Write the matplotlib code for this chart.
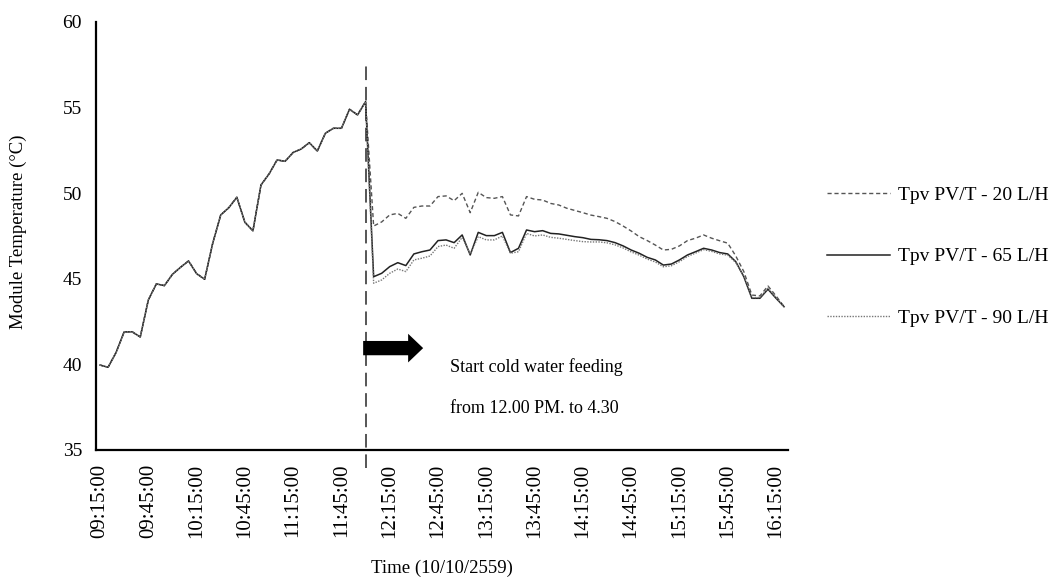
import matplotlib
matplotlib.use('Agg')
import matplotlib.pyplot as plt
from matplotlib.patches import FancyArrow
import pandas as pd

plt.rcParams['font.family'] = ['Liberation Serif', 'DejaVu Serif']

# ---- data ----
times = pd.date_range('2016-10-10 09:15', '2016-10-10 16:20', freq='5min').strftime('%H:%M:%S').tolist()

# values before cold water feeding (identical for all three flow rates), 09:15 - 12:00
pre_feed = [39.96, 39.83, 40.7, 41.9, 41.9, 41.6, 43.76, 44.7, 44.6, 45.26, 45.67, 46.04,
            45.3, 44.97, 47.07, 48.73, 49.15, 49.76, 48.3, 47.8, 50.48, 51.12, 51.94, 51.86,
            52.38, 52.58, 52.95, 52.46, 53.5, 53.79, 53.79, 54.9, 54.57, 55.35]

# values after feeding starts, 12:05 - 16:20
post_20 = [48.08, 48.32, 48.73, 48.82, 48.53, 49.17, 49.25, 49.25, 49.8, 49.84, 49.56, 49.99,
           48.86, 50.05, 49.74, 49.7, 49.8, 48.73, 48.67, 49.8, 49.64, 49.6, 49.4, 49.31,
           49.12, 48.99, 48.86, 48.72, 48.63, 48.53, 48.34, 48.08, 47.79, 47.46, 47.23, 46.97,
           46.68, 46.72, 46.92, 47.23, 47.37, 47.56, 47.37, 47.22, 47.08, 46.33, 45.42, 44.05,
           44.0, 44.58, 44.0, 43.37]
post_65 = [45.12, 45.32, 45.71, 45.94, 45.77, 46.45, 46.58, 46.68, 47.23, 47.27, 47.11, 47.56,
           46.39, 47.71, 47.52, 47.52, 47.71, 46.53, 46.78, 47.85, 47.75, 47.81, 47.65, 47.62,
           47.54, 47.46, 47.4, 47.3, 47.28, 47.23, 47.11, 46.92, 46.68, 46.49, 46.25, 46.1,
           45.8, 45.86, 46.1, 46.39, 46.58, 46.78, 46.68, 46.53, 46.45, 46.0, 45.12, 43.86,
           43.86, 44.39, 43.86, 43.37]
post_90 = [44.74, 44.93, 45.32, 45.57, 45.42, 46.1, 46.2, 46.33, 46.88, 46.97, 46.78, 47.42,
           46.45, 47.46, 47.27, 47.27, 47.5, 46.49, 46.58, 47.65, 47.5, 47.56, 47.42, 47.37,
           47.3, 47.23, 47.17, 47.15, 47.15, 47.1, 46.98, 46.8, 46.57, 46.38, 46.15, 45.98,
           45.7, 45.76, 46.0, 46.3, 46.5, 46.7, 46.6, 46.45, 46.38, 45.95, 45.15, 43.9,
           43.9, 44.45, 43.9, 43.35]

series_labels = ['Tpv PV/T - 20 L/H', 'Tpv PV/T - 65 L/H', 'Tpv PV/T - 90 L/H']
series_values = [pre_feed + post_20, pre_feed + post_65, pre_feed + post_90]
y_ticks = [35, 40, 45, 50, 55, 60]
feed_start = '12:00:00'

# ---- styles ----
styles = [dict(color='#555555', lw=1.0, ls=(0, (3, 2))),
          dict(color='#222222', lw=1.1, ls='-'),
          dict(color='#777777', lw=1.0, ls=(0, (1, 1)))]

fig = plt.figure(figsize=(10.55, 5.78), dpi=100)
ax = fig.add_axes([0.091, 0.2215, 0.656, 0.7405])

x = list(range(len(times)))
handles = []
for vals, lab, st in zip(series_values, series_labels, styles):
    h, = ax.plot(x, vals, label=lab, **st)
    handles.append(h)

ax.set_xlim(-0.5, len(times) - 0.5)
ax.set_ylim(35, 60)
ax.set_yticks(y_ticks)
ax.set_xticks(x[::6])
ax.set_xticklabels(times[::6], rotation=90)
ax.tick_params(axis='y', length=0, labelsize=14, pad=10)
ax.tick_params(axis='x', length=0, labelsize=15, pad=10)

for s in ['top', 'right']:
    ax.spines[s].set_visible(False)
for s in ['left', 'bottom']:
    ax.spines[s].set_linewidth(1.6)
    ax.spines[s].set_color('black')

ax.set_ylabel('Module Temperature (°C)', fontsize=13.5)
ax.yaxis.set_label_coords(-0.099, 0.51)
ax.set_xlabel('Time (10/10/2559)', fontsize=13.5)
ax.xaxis.set_label_coords(0.5, -0.257)

# vertical dashed marker at start of feeding
xi = times.index(feed_start)
ax.axvline(xi, ymin=-0.042, ymax=0.907, color='#555555', lw=1.4,
           ls=(0, (7, 3.5)), clip_on=False, zorder=1)

# block arrow
arr = FancyArrow(0.386, 0.238, 0.0867, 0, width=0.0334, head_width=0.067,
                 head_length=0.0217, length_includes_head=True,
                 transform=ax.transAxes, color='black', lw=0)
ax.add_patch(arr)

ax.text(0.5116, 0.1946, 'Start cold water feeding', transform=ax.transAxes,
        fontsize=13, va='center', ha='left')
ax.text(0.5116, 0.098, 'from 12.00 PM. to 4.30', transform=ax.transAxes,
        fontsize=13, va='center', ha='left')

fig.legend(handles=handles, labels=series_labels, loc='center left',
           bbox_to_anchor=(0.784, 0.556), frameon=False, borderpad=0,
           borderaxespad=0, labelspacing=2.26, handlelength=3.25,
           handletextpad=0.4, fontsize=14)

fig.savefig('out.png', dpi=100)
